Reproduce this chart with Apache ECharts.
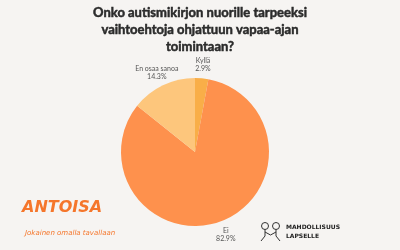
<!DOCTYPE html>
<html><head><meta charset="utf-8">
<script src="https://cdn.jsdelivr.net/npm/echarts@6/dist/echarts.min.js"></script>
<style>html,body{margin:0;padding:0;background:#f6f4f2}#c{width:400px;height:250px}</style>
</head><body><div id="c"></div>
<script>
const categories = ["Kyllä", "Ei", "En osaa sanoa"];
const values = [2.9, 82.9, 14.3];
const colors = ["#f9ae48", "#fe914d", "#fdc67c"];
const title = "Onko autismikirjon nuorille tarpeeksi\nvaihtoehtoja ohjattuun vapaa-ajan\ntoimintaan?";

const chart = echarts.init(document.getElementById('c'), null, {renderer: 'canvas'});
const data = categories.map((c, i) => ({name: c, value: values[i], itemStyle: {color: colors[i]}}));
chart.setOption({
  backgroundColor: '#f6f4f2',
  animation: false,
  title: {
    text: title, left: 'center', top: -1,
    textStyle: {fontFamily: 'Lato', fontWeight: 'bold', fontSize: 13, lineHeight: 17, color: '#2b2b2b',
      textBorderColor: '#2b2b2b', textBorderWidth: 0.5}
  },
  series: [{
    type: 'pie',
    center: [195, 152],
    radius: 74,
    startAngle: 90,
    clockwise: true,
    label: {show: false},
    labelLine: {show: false},
    data: data
  }, {
    type: 'pie',
    silent: true,
    center: [195, 152],
    radius: [74, 96],
    startAngle: 90,
    clockwise: true,
    itemStyle: {color: 'rgba(0,0,0,0)'},
    label: {
      position: 'inside',
      formatter: p => p.name + '\n' + p.value.toFixed(1) + '%',
      fontFamily: 'Lato', fontSize: 7, lineHeight: 8, color: '#555'
    },
    labelLine: {show: false},
    data: categories.map((c, i) => ({name: c, value: values[i]}))
  }],
  graphic: [
    {type: 'text', left: 22, top: 200, style: {text: 'ANTOISA', font: 'italic bold 16px "DejaVu Sans"', fill: '#f5762b'}},
    {type: 'text', left: 25, top: 230, style: {text: 'Jokainen omalla tavallaan', font: 'italic 7px "DejaVu Sans"', fill: '#f5762b'}},
    {type: 'text', left: 286, top: 223, style: {text: 'MAHDOLLISUUS\nLAPSELLE', font: 'bold 6px "DejaVu Sans"', lineHeight: 9, fill: '#222'}},
    {type: 'circle', shape: {cx: 265, cy: 226, r: 3.5}, style: {fill: 'none', stroke: '#333', lineWidth: 1}},
    {type: 'circle', shape: {cx: 276, cy: 226, r: 3.5}, style: {fill: 'none', stroke: '#333', lineWidth: 1}},
    {type: 'polyline', shape: {points: [[265,229.5],[265,236],[261,241]]}, style: {fill: 'none', stroke: '#333', lineWidth: 1}},
    {type: 'polyline', shape: {points: [[276,229.5],[276,236],[280,241]]}, style: {fill: 'none', stroke: '#333', lineWidth: 1}},
    {type: 'polyline', shape: {points: [[265,232],[270.5,235],[276,232]]}, style: {fill: 'none', stroke: '#333', lineWidth: 1}}
  ]
});
</script></body></html>
